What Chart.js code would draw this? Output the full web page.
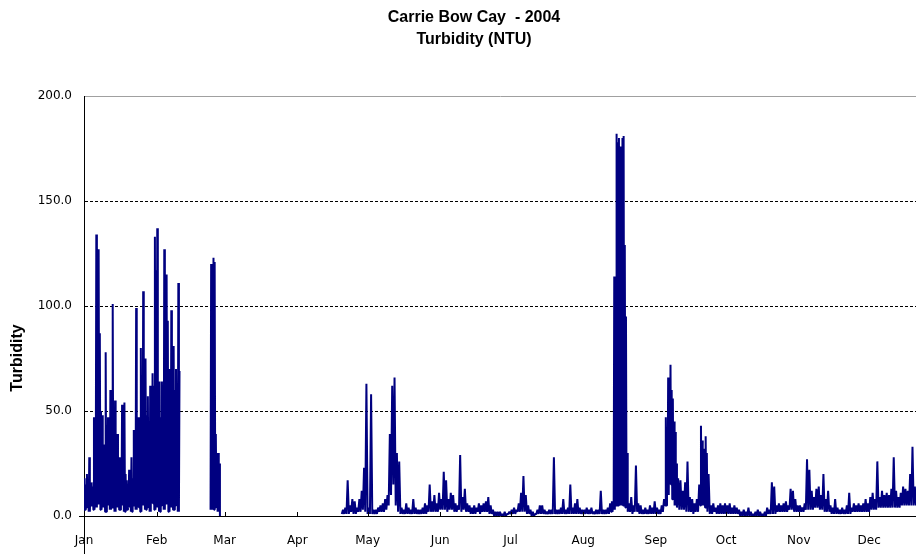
<!DOCTYPE html>
<html lang="en">
<head>
    <meta charset="UTF-8">
    <title>Carrie Bow Cay - 2004 Turbidity</title>
    <script src="https://cdn.jsdelivr.net/npm/chart.js"></script>
    <style>
        body {
            margin: 0;
            background: #fff;
        }

        .wrap {
            position: relative;
            width: 916px;
            height: 554px;
        }
    </style>
</head>
<body>
    <div class="wrap"><canvas id="turbidity-chart"></canvas></div>

    <script>
        // x axis: month names and the day of year (Jan 1 = 0) each month starts on
        const monthNames = ["Jan", "Feb", "Mar", "Apr", "May", "Jun", "Jul", "Aug", "Sep", "Oct", "Nov", "Dec"];
        const monthStarts = [0, 31, 60, 91, 121, 152, 182, 213, 244, 274, 305, 335];

        // y axis ticks
        const yTicks = [0, 50, 100, 150, 200];

        // Turbidity (NTU): daily low, daily peak and,
        // where the trace is dense, a second peak later in the day.
        // Record 1: Jan 1 - Feb 10
        const janFebStart = 0;
        const janFebLow = [
            3, 4, 2, 5, 3, 4, 6, 3, 4, 2,
            5, 3, 4, 2, 4, 3, 5, 2, 3, 4,
            2, 5, 3, 4, 2, 5, 3, 4, 2, 6,
            3, 4, 2, 5, 3, 6, 2, 4, 3, 5,
            2
        ];
        const janFebHigh = [
            18, 20, 28, 16, 47, 134, 127, 50, 34, 78,
            47, 60, 101, 55, 39, 28, 53, 54, 17, 22,
            28, 41, 99, 47, 80, 107, 75, 57, 62, 68,
            133, 137, 64, 64, 127, 115, 70, 98, 81, 70,
            111
        ];
        const janFebHigh2 = [
            15, 17, 12, 14, 34, 40, 87, 48, 30, 32,
            45, 39, 35, 38, 20, 22, 35, 20, 15, 17,
            18, 25, 40, 47, 63, 55, 48, 45, 55, 62,
            117, 64, 47, 42, 60, 93, 70, 75, 60, 50,
            69
        ];

        // Record 2: Feb 24 - Feb 28
        const lateFebStart = 54;
        const lateFebLow = [3, 3, 4, 2, 0];
        const lateFebHigh = [120, 123, 39, 30, null];
        const lateFebHigh2 = [118, 121, 30, 25, null];

        // Record 3: Apr 20 onwards
        const mainStart = 110;
        const mainLow = [
            1, 1, 1, 1, 2, 1, 1, 2, 2, 3,
            2, 1, 1, 1, 1, 1, 2, 2, 2, 3,
            5, 10, 15, 5, 2, 1, 1, 1, 1, 1,
            1, 1, 1, 1, 1, 1, 1, 2, 2, 2,
            2, 2, 3, 3, 3, 2, 3, 3, 2, 2,
            3, 2, 3, 2, 2, 1, 1, 1, 2, 1,
            2, 2, 2, 1, 1, 0, 0, 0, 0, 0,
            0, 1, 1, 1, 1, 2, 2, 2, 2, 1,
            1, 0, 0, 1, 1, 1, 1, 1, 1, 1,
            1, 1, 1, 1, 1, 1, 1, 1, 1, 1,
            1, 1, 1, 1, 1, 1, 1, 1, 1, 1,
            1, 1, 1, 1, 1, 2, 3, 5, 5, 5,
            5, 4, 2, 2, 1, 2, 2, 1, 1, 1,
            1, 1, 1, 1, 1, 1, 1, 2, 5, 10,
            15, 8, 5, 4, 3, 3, 3, 2, 2, 2,
            1, 2, 2, 5, 5, 4, 2, 1, 1, 2,
            1, 1, 1, 1, 1, 1, 1, 1, 1, 1,
            0, 0, 0, 0, 0, 0, 0, 0, 0, 0,
            0, 0, 1, 1, 1, 1, 2, 2, 2, 2,
            2, 3, 3, 2, 2, 2, 2, 2, 3, 3,
            3, 3, 4, 4, 3, 3, 2, 2, 2, 1,
            1, 1, 1, 1, 1, 1, 1, 1, 2, 2,
            2, 2, 2, 2, 2, 2, 3, 3, 3, 4,
            4, 4, 4, 4, 4, 4, 4, 4, 4, 5,
            5, 5, 5, 5, 5, 5
        ];
        const mainHigh = [
            3, 4, 17, 5, 8, 7, 4, 8, 12, 23,
            63, 4, 58, 3, 3, 4, 5, 6, 8, 10,
            39, 62, 66, 30, 26, 4, 3, 6, 4, 3,
            8, 4, 3, 3, 4, 6, 5, 15, 7, 10,
            6, 11, 8, 21, 17, 8, 11, 10, 6, 5,
            29, 9, 13, 6, 5, 4, 5, 4, 6, 5,
            6, 7, 9, 5, 3, 2, 2, 2, 1, 2,
            1, 2, 3, 4, 3, 6, 11, 19, 10, 5,
            3, 2, 1, 3, 5, 5, 3, 2, 3, 3,
            28, 3, 3, 4, 8, 3, 4, 15, 4, 6,
            8, 4, 3, 3, 4, 3, 4, 2, 3, 3,
            12, 3, 3, 4, 6, 7, 114, 182, 180, 175,
            181, 95, 6, 9, 5, 24, 6, 5, 3, 4,
            3, 5, 4, 7, 4, 3, 5, 8, 47, 66,
            72, 56, 40, 18, 17, 12, 16, 26, 9, 8,
            6, 8, 15, 43, 32, 38, 20, 5, 6, 4,
            5, 6, 5, 6, 5, 6, 4, 5, 4, 3,
            2, 3, 2, 4, 2, 1, 2, 3, 2, 1,
            2, 4, 3, 16, 14, 5, 6, 5, 6, 7,
            5, 13, 12, 8, 5, 5, 4, 6, 27, 22,
            12, 9, 13, 14, 10, 20, 8, 12, 5, 4,
            8, 4, 3, 4, 3, 5, 11, 4, 6, 5,
            6, 5, 6, 8, 6, 9, 11, 8, 26, 9,
            12, 10, 11, 10, 13, 28, 12, 9, 11, 14,
            13, 12, 20, 33, 14, 12
        ];
        // second peaks in the Aug - Sep events (Aug 13 - Sep 22)
        const augSepStart = 225;
        const augSepHigh2 = [
            5, 60, 178, 176, 180, 129, 30, null, null, null,
            null, null, null, null, null, null, null, null, null, null,
            null, null, null, 40, 55, 60, 45, 25, null, null,
            null, null, null, null, null, null, null, null, 36, 28,
            30
        ];

        // one day: low, peak, (low, second peak)
        function toPoints(start, lows, highs, high2Start, highs2) {
            const pts = [];
            lows.forEach((lo, i) => {
                const d = start + i;
                const j = d - high2Start;
                const h2 = (highs2 && j >= 0 && j < highs2.length) ? highs2[j] : null;
                pts.push({ x: d, y: lo });
                if (highs[i] === null) return;
                if (h2 === null) {
                    pts.push({ x: d + 0.5, y: highs[i] });
                } else {
                    pts.push({ x: d + 0.25, y: highs[i] });
                    pts.push({ x: d + 0.5, y: lo });
                    pts.push({ x: d + 0.75, y: h2 });
                }
            });
            return pts;
        }

        const points = [
            ...toPoints(janFebStart, janFebLow, janFebHigh, janFebStart, janFebHigh2),
            { x: janFebStart + janFebLow.length, y: null },
            ...toPoints(lateFebStart, lateFebLow, lateFebHigh, lateFebStart, lateFebHigh2),
            { x: lateFebStart + lateFebLow.length, y: null },
            ...toPoints(mainStart, mainLow, mainHigh, augSepStart, augSepHigh2)
        ];

        const labelFont = '"DejaVu Sans", Verdana, sans-serif';
        const titleFont = 'bold 16px "Liberation Sans", Arial, sans-serif';

        // titles, inward month ticks and the y axis running on below the x axis
        const extras = {
            id: "extras",
            afterDraw(chart) {
                const { ctx, chartArea, scales } = chart;
                ctx.save();
                ctx.strokeStyle = "#000";
                ctx.lineWidth = 1;

                const lx = Math.round(chartArea.left) + 0.5;
                ctx.beginPath();
                ctx.moveTo(lx, chartArea.bottom);
                ctx.lineTo(lx, chart.height);
                ctx.stroke();

                scales.x.ticks.forEach(t => {
                    const px = Math.round(scales.x.getPixelForValue(t.value)) + 0.5;
                    ctx.beginPath();
                    ctx.moveTo(px, chartArea.bottom);
                    ctx.lineTo(px, chartArea.bottom - 4);
                    ctx.stroke();
                });

                ctx.fillStyle = "#000";
                ctx.font = titleFont;
                ctx.textAlign = "center";
                ctx.textBaseline = "middle";
                ctx.fillText("Carrie Bow Cay  - 2004", 474, 18);
                ctx.fillText("Turbidity (NTU)", 474, 40);

                ctx.translate(18, 358);
                ctx.rotate(-Math.PI / 2);
                ctx.fillText("Turbidity", 0, 0);
                ctx.restore();
            }
        };

        const ctx = document.getElementById("turbidity-chart").getContext("2d");

        new Chart(ctx, {
            type: "line",
            data: {
                datasets: [{
                    label: "Turbidity",
                    data: points,
                    borderColor: "#000080",
                    borderWidth: 2,
                    borderJoinStyle: "bevel",
                    pointRadius: 0,
                    tension: 0,
                    spanGaps: false
                }]
            },
            options: {
                responsive: true,
                maintainAspectRatio: false,
                animation: false,
                layout: { padding: { top: 96, right: 0, bottom: 0, left: 0 } },
                plugins: {
                    legend: { display: false },
                    tooltip: { enabled: false },
                    title: { display: false }
                },
                scales: {
                    x: {
                        type: "linear",
                        min: 0,
                        max: 355,
                        afterBuildTicks: s => { s.ticks = monthStarts.map(v => ({ value: v })); },
                        afterFit: s => { s.height = 38; },
                        ticks: {
                            callback: (v, i) => monthNames[i],
                            color: "#000",
                            font: { family: labelFont, size: 12 },
                            padding: 18,
                            autoSkip: false,
                            maxRotation: 0
                        },
                        grid: { drawOnChartArea: false, drawTicks: false },
                        border: { color: "#000", width: 1 }
                    },
                    y: {
                        min: 0,
                        max: 200,
                        afterBuildTicks: s => { s.ticks = yTicks.map(v => ({ value: v })); },
                        afterFit: s => { s.width = 84; },
                        ticks: {
                            callback: v => v.toFixed(1),
                            color: "#000",
                            font: { family: labelFont, size: 12 },
                            padding: 7
                        },
                        grid: {
                            lineWidth: 1,
                            tickLength: 5,
                            color: c => {
                                if (!c.tick) return "#000";
                                if (c.tick.value === 200) return "#a0a0a0";
                                if (c.tick.value === 0) return "rgba(0,0,0,0)";
                                return "#000";
                            },
                            tickColor: c => (c.tick && c.tick.value === 0) ? "#000" : "rgba(0,0,0,0)"
                        },
                        border: {
                            color: "#000",
                            width: 1,
                            dash: c => (c.tick && c.tick.value > 0 && c.tick.value < 200) ? [3, 2] : []
                        }
                    }
                }
            },
            plugins: [extras]
        });
    </script>
</body>
</html>
